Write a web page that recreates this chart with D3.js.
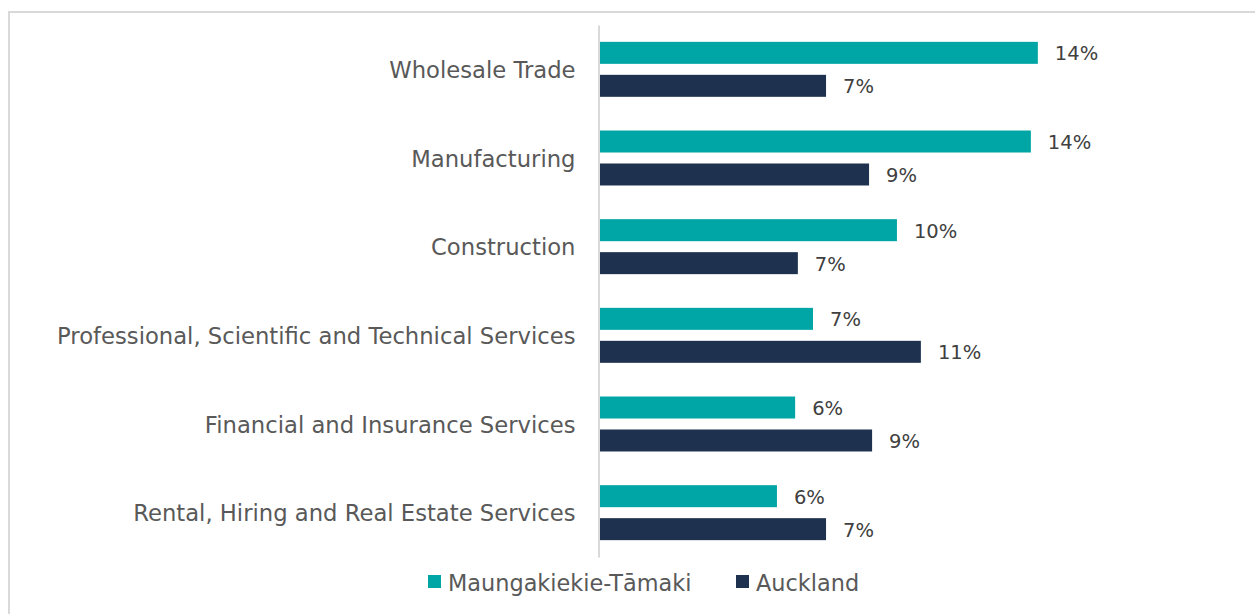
<!DOCTYPE html>
<html>
<head>
<meta charset="utf-8">
<script src="https://cdn.jsdelivr.net/npm/d3@7"></script>
<style>
  body { margin: 0; background: #fff; }
  svg { display: block; }
</style>
</head>
<body>
<div id="container"></div>
<script>
// Chart data (shares of employment by industry)
var industries = ["Wholesale Trade", "Manufacturing", "Construction",
  "Professional, Scientific and Technical Services",
  "Financial and Insurance Services", "Rental, Hiring and Real Estate Services"];
var seriesNames = ["Maungakiekie-Tāmaki", "Auckland"];
var localShare = [0.1445, 0.1422, 0.0980, 0.0703, 0.0644, 0.0584];
var aucklandShare = [0.0746, 0.0888, 0.0653, 0.1059, 0.0898, 0.0746];

var colors = ["#00a6a6", "#1e324f"];
var W = 1255, H = 614;
var fontFam = "'DejaVu Sans', sans-serif";

var svg = d3.select("div#container")
  .append("svg")
  .attr("width", W)
  .attr("height", H);

// chart frame
svg.append("rect")
  .attr("x", 9).attr("y", 12)
  .attr("width", 1300).attr("height", 700)
  .attr("fill", "none")
  .attr("stroke", "#d9d9d9")
  .attr("stroke-width", 2);

var x = d3.scaleLinear().domain([0, 0.2]).range([600, 1206]);
var y = d3.scaleBand().domain(industries).range([25, 557]).paddingInner(0.38).paddingOuter(0.19);
var ySub = d3.scaleBand().domain([0, 1]).range([0, y.bandwidth()]).paddingInner(0.333);

var rows = industries.map(function(d, i) {
  return {name: d, values: [localShare[i], aucklandShare[i]]};
});

// bars
var grp = svg.append("g").selectAll("g")
  .data(rows)
  .enter().append("g")
  .attr("transform", function(d) { return "translate(0," + y(d.name) + ")"; });

grp.selectAll("rect")
  .data(function(d) { return d.values; })
  .enter().append("rect")
  .attr("x", x(0))
  .attr("y", function(d, i) { return ySub(i); })
  .attr("width", function(d) { return x(d) - x(0); })
  .attr("height", ySub.bandwidth())
  .attr("fill", function(d, i) { return colors[i]; });

var fmt = d3.format(".0%");
grp.selectAll("text")
  .data(function(d) { return d.values; })
  .enter().append("text")
  .attr("x", function(d) { return x(d) + 17; })
  .attr("y", function(d, i) { return ySub(i) + ySub.bandwidth() / 2; })
  .attr("dy", "0.38em")
  .attr("fill", "#404040")
  .style("font-family", fontFam)
  .style("font-size", "19.5px")
  .text(function(d) { return fmt(d); });

// category axis
var axis = svg.append("g")
  .attr("transform", "translate(598.5,0)")
  .call(d3.axisLeft(y).tickSize(0).tickPadding(23).tickSizeOuter(0));
axis.select(".domain").attr("stroke", "#d9d9d9").attr("stroke-width", 2);
axis.selectAll("text")
  .attr("dy", "0.38em")
  .attr("fill", "#595959")
  .style("font-family", fontFam)
  .style("font-size", "22.7px");

// legend
var legendX = [428, 736];
var legend = svg.append("g").selectAll("g")
  .data(seriesNames)
  .enter().append("g")
  .attr("transform", function(d, i) { return "translate(" + legendX[i] + ",575)"; });
legend.append("rect")
  .attr("width", 13).attr("height", 13)
  .attr("fill", function(d, i) { return colors[i]; });
legend.append("text")
  .attr("x", 20).attr("y", 7)
  .attr("dy", "0.38em")
  .attr("fill", "#595959")
  .style("font-family", fontFam)
  .style("font-size", "22.4px")
  .text(function(d) { return d; });
</script>
</body>
</html>
